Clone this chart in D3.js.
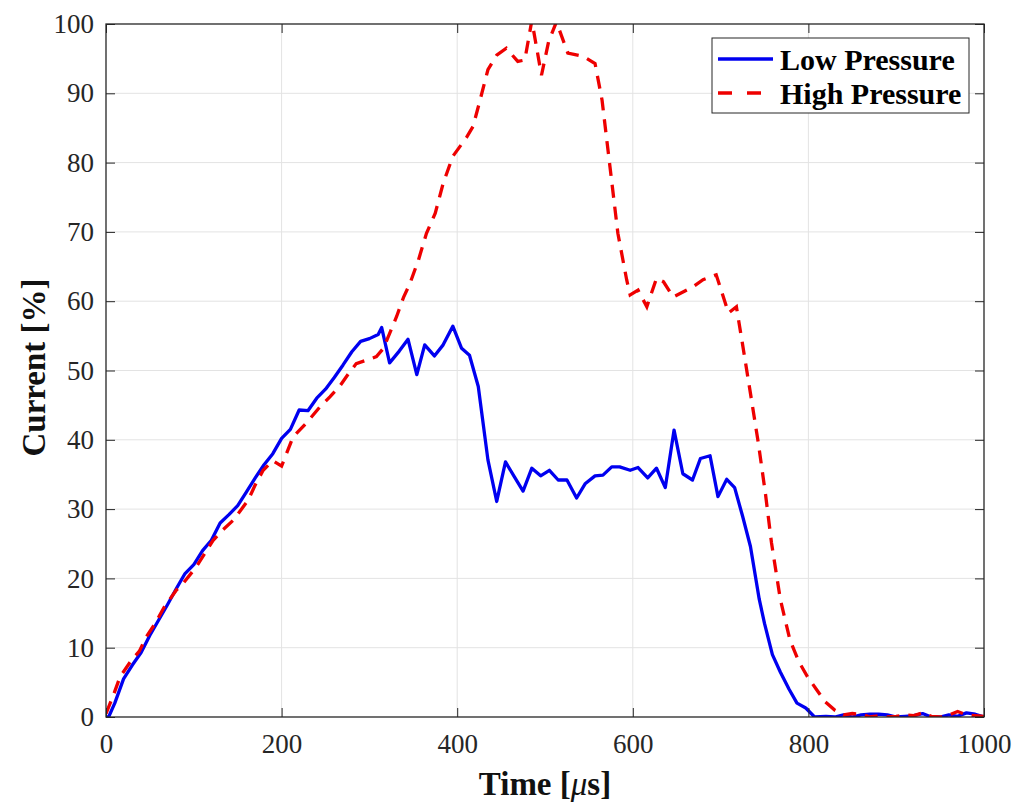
<!DOCTYPE html>
<html>
<head>
<meta charset="utf-8">
<script src="https://cdn.jsdelivr.net/npm/d3@7"></script>
<style>
  html, body { margin: 0; padding: 0; background: #fff; }
  svg { display: block; }
</style>
</head>
<body>
<svg id="chart" width="1021" height="804"></svg>
<script>
// ---- data ----
const xTicks = [0, 200, 400, 600, 800, 1000];
const yTicks = [0, 10, 20, 30, 40, 50, 60, 70, 80, 90, 100];
const seriesNames = ["Low Pressure", "High Pressure"];

const lowTime = [0,3,10,20,30,40,50,60,70,80,90,100,110,120,130,140,150,160,170,180,190,200,210,220,230,240,250,260,270,280,290,300,310,314,323,334,344,354,363,374,384,395,405,414,424,435,445,455,465,475,485,495,505,515,525,536,546,557,566,576,585,597,606,617,627,637,647,657,668,677,688,697,707,716,725,734,744,750,759,768,778,787,797,807,820,830,840,850,860,870,880,890,900,910,920,930,940,950,960,970,980,990,1000];
const lowValue = [0,0,2,5.5,7.5,9.3,11.8,14,16.2,18.5,20.7,22,24,25.5,28,29.2,30.5,32.5,34.5,36.4,38,40.2,41.5,44.3,44.2,46,47.3,49,50.8,52.7,54.2,54.6,55.2,56.2,51.1,52.8,54.5,49.4,53.7,52.1,53.7,56.4,53.2,52.2,47.7,37.1,31.1,36.8,34.7,32.6,35.9,34.8,35.6,34.2,34.2,31.6,33.7,34.8,34.9,36.1,36.1,35.6,36.0,34.5,35.9,33.1,41.4,35.1,34.2,37.3,37.7,31.8,34.3,33.1,29,24.6,17,13.5,9,6.5,4,2,1.3,0,0.1,0,0.3,0,0.3,0.4,0.4,0.3,0,0.1,0.2,0.5,0,0,0.3,0.1,0.6,0.4,0];

const highTime = [0,8,16,29,38,46,56,66,80,88,103,112,122,133,145,162,170,179,190,200,213,228,244,255,266,276,285,297,308,316,331,339,346,356,365,375,384,395,411,418,426,435,445,456,469,477,485,496,504,513,526,544,557,565,574,583,593,597,606,616,627,635,646,669,680,695,709,718,726,734,743,751,758,768,779,789,799,809,819,830,840,850,860,870,880,890,900,910,920,930,940,950,960,970,980,990,1000];
const highValue = [0.5,3,5.8,8.2,9.5,11.6,13.5,15.8,18.3,19.3,21.7,23.5,25.5,27,28.4,31.3,33.5,35.6,37,36.2,40.4,42.4,44.8,46.2,47.7,49.5,51,51.5,52,53.2,57.8,60.6,62.5,66,69.8,72.7,77,80.9,83.7,85.2,89,93.4,95.5,96.5,94.6,94.8,100.5,92.6,97.4,100.3,95.8,95.3,94.3,89,79.4,69.8,63.1,60.9,61.6,59.2,63.3,62.8,60.6,62.1,63.1,63.8,58.3,59.2,53,46.7,39.5,32.3,25.1,17,11.1,8,5.8,4,2.2,1,0.3,0.5,0.4,0,0.2,0,0.1,0.3,0.2,0.6,0.1,0,0.3,0.8,0.3,0.2,0.1];

// ---- layout ----
const svg = d3.select("#chart");
const M = { left: 106, top: 24, right: 1021 - 984, bottom: 804 - 717 };
const W = 1021 - M.left - M.right;
const H = 804 - M.top - M.bottom;
const axisColor = "#262626";
const gridColor = "#e3e3e3";
const font = "'Liberation Serif', 'Times New Roman', serif";

const x = d3.scaleLinear().domain([0, 1000]).range([0, W]);
const y = d3.scaleLinear().domain([0, 100]).range([H, 0]);

const g = svg.append("g").attr("transform", `translate(${M.left},${M.top})`);

// grid
g.append("g").selectAll("line").data(xTicks.slice(1, -1)).join("line")
  .attr("x1", d => x(d)).attr("x2", d => x(d)).attr("y1", 0).attr("y2", H)
  .attr("stroke", gridColor).attr("stroke-width", 1);
g.append("g").selectAll("line").data(yTicks.slice(1, -1)).join("line")
  .attr("y1", d => y(d)).attr("y2", d => y(d)).attr("x1", 0).attr("x2", W)
  .attr("stroke", gridColor).attr("stroke-width", 1);

// clip
svg.append("defs").append("clipPath").attr("id", "clip")
  .append("rect").attr("x", 0).attr("y", 0).attr("width", W).attr("height", H);

const line = d3.line().x(d => x(d[0])).y(d => y(d[1]));
const lowData = lowTime.map((t, i) => [t, lowValue[i]]);
const highData = highTime.map((t, i) => [t, highValue[i]]);

const colors = ["#0000f0", "#ee0000"];
const dash = "13,9";

const plot = g.append("g").attr("clip-path", "url(#clip)");
plot.append("path").datum(lowData).attr("d", line)
  .attr("fill", "none").attr("stroke", colors[0]).attr("stroke-width", 3.3)
  .attr("stroke-linejoin", "round");
plot.append("path").datum(highData).attr("d", line)
  .attr("fill", "none").attr("stroke", colors[1]).attr("stroke-width", 3.3)
  .attr("stroke-dasharray", dash);

// axes (ticks inward)
const tickLen = 9;
const xAxisB = d3.axisBottom(x).tickValues(xTicks).tickSize(-tickLen).tickPadding(17).tickFormat(d3.format("d"));
const yAxisL = d3.axisLeft(y).tickValues(yTicks).tickSize(-tickLen).tickPadding(12).tickFormat(d3.format("d"));
const xAxisT = d3.axisTop(x).tickValues(xTicks).tickSize(-tickLen).tickFormat("");
const yAxisR = d3.axisRight(y).tickValues(yTicks).tickSize(-tickLen).tickFormat("");

function styleAxis(sel) {
  sel.selectAll("path.domain").attr("stroke", axisColor).attr("stroke-width", 1.3);
  sel.selectAll(".tick line").attr("stroke", axisColor).attr("stroke-width", 1);
  sel.selectAll(".tick text").attr("fill", axisColor)
    .style("font-family", font).style("font-size", "27px");
}
g.append("g").attr("transform", `translate(0,${H})`).call(xAxisB).call(styleAxis);
g.append("g").call(yAxisL).call(styleAxis);
g.append("g").call(xAxisT).call(styleAxis);
g.append("g").attr("transform", `translate(${W},0)`).call(yAxisR).call(styleAxis);
g.selectAll("path.domain").attr("d", null);
g.append("rect").attr("x", 0).attr("y", 0).attr("width", W).attr("height", H)
  .attr("fill", "none").attr("stroke", axisColor).attr("stroke-width", 1.3);

// axis titles
const xt = svg.append("text")
  .attr("x", M.left + W / 2).attr("y", 795)
  .attr("text-anchor", "middle")
  .style("font-family", font).style("font-size", "33px").style("font-weight", "bold")
  .attr("fill", "#111");
xt.append("tspan").text("Time [");
xt.append("tspan").text("\u03bc").style("font-style", "italic").style("font-weight", "normal");
xt.append("tspan").text("s]");

svg.append("text")
  .attr("transform", `translate(45, ${M.top + H / 2 - 3}) rotate(-90)`)
  .attr("text-anchor", "middle")
  .style("font-family", font).style("font-size", "33px").style("font-weight", "bold")
  .attr("fill", "#111")
  .text("Current [%]");

// legend
const lg = svg.append("g").attr("transform", "translate(712,38)");
lg.append("rect").attr("width", 257).attr("height", 75)
  .attr("fill", "#fff").attr("stroke", axisColor).attr("stroke-width", 1);
seriesNames.forEach((name, i) => {
  const yy = 21 + i * 34;
  lg.append("line").attr("x1", 6).attr("x2", 61).attr("y1", yy).attr("y2", yy)
    .attr("stroke", colors[i]).attr("stroke-width", 3.3)
    .attr("stroke-dasharray", i === 1 ? "14,15" : null);
  lg.append("text").attr("x", 68).attr("y", yy + 11)
    .style("font-family", font).style("font-size", "30px").style("font-weight", "bold")
    .attr("fill", "#000").text(name);
});
</script>
</body>
</html>
